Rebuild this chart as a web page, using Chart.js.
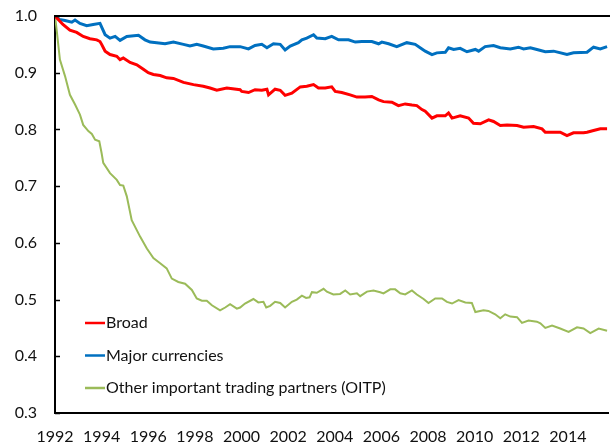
<!DOCTYPE html>
<html>
<head>
<meta charset="utf-8">
<script src="https://cdn.jsdelivr.net/npm/chart.js@4.4.1/dist/chart.umd.min.js"></script>
<style>
  body { margin: 0; background: #fff; }
  canvas { display: block; }
</style>
</head>
<body>
<canvas id="reer" width="610" height="444"></canvas>
<script>
// Series (decimal years, index values)
const broadYears = [1992.00, 1992.34, 1992.64, 1992.93, 1993.21, 1993.50, 1993.79, 1993.93, 1994.00, 1994.15, 1994.36, 1994.65, 1994.79, 1994.93, 1995.22, 1995.51, 1995.79, 1996.00, 1996.22, 1996.51, 1996.79, 1997.08, 1997.51, 1997.94, 1998.36, 1998.65, 1998.94, 1999.37, 1999.94, 2000.01, 2000.30, 2000.58, 2000.87, 2001.09, 2001.16, 2001.44, 2001.66, 2001.87, 2002.16, 2002.52, 2002.80, 2003.09, 2003.30, 2003.59, 2003.87, 2004.02, 2004.30, 2004.66, 2004.95, 2005.30, 2005.59, 2005.88, 2006.09, 2006.45, 2006.73, 2007.02, 2007.31, 2007.52, 2007.74, 2007.88, 2008.17, 2008.38, 2008.74, 2008.88, 2009.03, 2009.38, 2009.74, 2009.95, 2010.24, 2010.60, 2010.81, 2011.10, 2011.39, 2011.82, 2012.10, 2012.53, 2012.89, 2013.03, 2013.39, 2013.67, 2013.96, 2014.24, 2014.67, 2014.82, 2015.10, 2015.39, 2015.68];
const broadValues = [1.000, 0.985, 0.975, 0.971, 0.964, 0.960, 0.958, 0.955, 0.950, 0.938, 0.932, 0.929, 0.923, 0.926, 0.918, 0.914, 0.906, 0.900, 0.897, 0.895, 0.891, 0.890, 0.883, 0.879, 0.876, 0.873, 0.869, 0.873, 0.870, 0.867, 0.865, 0.870, 0.869, 0.871, 0.861, 0.871, 0.869, 0.860, 0.864, 0.875, 0.876, 0.879, 0.873, 0.873, 0.875, 0.867, 0.865, 0.861, 0.857, 0.857, 0.858, 0.852, 0.849, 0.848, 0.842, 0.845, 0.843, 0.842, 0.835, 0.832, 0.820, 0.824, 0.824, 0.829, 0.820, 0.824, 0.820, 0.811, 0.810, 0.817, 0.814, 0.807, 0.808, 0.807, 0.804, 0.805, 0.801, 0.795, 0.795, 0.795, 0.789, 0.794, 0.794, 0.795, 0.798, 0.801, 0.801];

const majorYears = [1992.00, 1992.18, 1992.43, 1992.72, 1992.86, 1993.07, 1993.36, 1993.64, 1993.93, 1994.15, 1994.36, 1994.58, 1994.79, 1995.08, 1995.58, 1995.86, 1996.08, 1996.36, 1996.72, 1997.08, 1997.51, 1997.79, 1998.08, 1998.36, 1998.79, 1999.22, 1999.51, 1999.94, 2000.30, 2000.58, 2000.87, 2001.09, 2001.37, 2001.66, 2001.87, 2002.09, 2002.44, 2002.59, 2002.80, 2003.09, 2003.23, 2003.59, 2003.87, 2004.16, 2004.59, 2004.88, 2005.16, 2005.59, 2005.88, 2006.02, 2006.31, 2006.66, 2007.09, 2007.45, 2007.74, 2007.88, 2008.17, 2008.38, 2008.74, 2008.88, 2009.10, 2009.38, 2009.67, 2010.03, 2010.17, 2010.45, 2010.81, 2011.10, 2011.53, 2011.88, 2012.10, 2012.39, 2012.67, 2013.03, 2013.39, 2013.96, 2014.24, 2014.82, 2015.10, 2015.39, 2015.68];
const majorValues = [1.000, 0.994, 0.992, 0.989, 0.993, 0.987, 0.983, 0.985, 0.987, 0.967, 0.961, 0.964, 0.957, 0.964, 0.966, 0.958, 0.954, 0.953, 0.951, 0.954, 0.950, 0.947, 0.950, 0.947, 0.942, 0.943, 0.946, 0.946, 0.942, 0.948, 0.950, 0.944, 0.951, 0.950, 0.940, 0.947, 0.953, 0.958, 0.961, 0.967, 0.961, 0.960, 0.964, 0.958, 0.958, 0.954, 0.955, 0.955, 0.951, 0.954, 0.951, 0.946, 0.953, 0.950, 0.942, 0.938, 0.932, 0.935, 0.936, 0.944, 0.941, 0.943, 0.937, 0.941, 0.938, 0.946, 0.948, 0.944, 0.942, 0.945, 0.942, 0.944, 0.941, 0.937, 0.938, 0.932, 0.935, 0.936, 0.945, 0.942, 0.946];

const oitpYears = [1992.00, 1992.07, 1992.21, 1992.43, 1992.64, 1992.86, 1993.07, 1993.21, 1993.43, 1993.58, 1993.72, 1993.90, 1994.00, 1994.07, 1994.36, 1994.65, 1994.79, 1994.93, 1995.08, 1995.29, 1995.65, 1995.94, 1996.22, 1996.51, 1996.79, 1997.01, 1997.29, 1997.58, 1997.87, 1998.08, 1998.30, 1998.51, 1998.73, 1999.08, 1999.30, 1999.51, 1999.80, 1999.94, 2000.15, 2000.51, 2000.72, 2000.94, 2001.06, 2001.23, 2001.44, 2001.66, 2001.87, 2002.16, 2002.37, 2002.59, 2002.77, 2002.92, 2003.02, 2003.23, 2003.52, 2003.66, 2003.94, 2004.23, 2004.45, 2004.66, 2004.95, 2005.09, 2005.38, 2005.66, 2005.95, 2006.09, 2006.38, 2006.59, 2006.81, 2007.02, 2007.31, 2007.52, 2007.81, 2008.02, 2008.31, 2008.60, 2008.81, 2009.03, 2009.31, 2009.60, 2009.88, 2010.03, 2010.38, 2010.59, 2010.88, 2011.10, 2011.31, 2011.53, 2011.82, 2012.03, 2012.31, 2012.67, 2012.82, 2013.03, 2013.32, 2013.67, 2014.03, 2014.39, 2014.67, 2014.96, 2015.32, 2015.68];
const oitpValues = [1.000, 0.976, 0.923, 0.894, 0.861, 0.844, 0.826, 0.808, 0.797, 0.792, 0.782, 0.779, 0.758, 0.741, 0.723, 0.711, 0.702, 0.701, 0.682, 0.640, 0.611, 0.590, 0.573, 0.564, 0.555, 0.537, 0.531, 0.528, 0.517, 0.502, 0.498, 0.498, 0.490, 0.481, 0.486, 0.492, 0.484, 0.486, 0.493, 0.501, 0.495, 0.496, 0.486, 0.489, 0.496, 0.494, 0.486, 0.496, 0.500, 0.507, 0.503, 0.504, 0.513, 0.512, 0.519, 0.514, 0.509, 0.510, 0.516, 0.509, 0.511, 0.506, 0.514, 0.516, 0.513, 0.511, 0.518, 0.518, 0.511, 0.509, 0.516, 0.509, 0.501, 0.494, 0.502, 0.502, 0.496, 0.493, 0.499, 0.495, 0.494, 0.478, 0.481, 0.480, 0.474, 0.467, 0.474, 0.470, 0.469, 0.459, 0.463, 0.461, 0.458, 0.450, 0.454, 0.449, 0.443, 0.451, 0.449, 0.441, 0.449, 0.445];

const xTickLabels = [1992, 1994, 1996, 1998, 2000, 2002, 2004, 2006, 2008, 2010, 2012, 2014];
const yTickLabels = [0.3, 0.4, 0.5, 0.6, 0.7, 0.8, 0.9, 1.0];

const toPoints = (xs, ys) => xs.map((x, i) => ({ x: x, y: ys[i] }));

Chart.defaults.font.family = 'Lato, "Open Sans", sans-serif';
Chart.defaults.font.size = 16;
Chart.defaults.color = '#111';

// axis frame bits and the legend inside the plot
const frame = {
  id: 'frame',
  afterDatasetsDraw(chart) {
    const c = chart.ctx;
    const a = chart.chartArea;
    const ys = chart.scales.y;
    c.save();
    c.strokeStyle = '#000';
    c.lineWidth = 2;
    c.beginPath();
    c.moveTo(a.left, a.top);
    c.lineTo(a.right + 2, a.top);
    c.stroke();
    c.lineWidth = 1.5;
    yTickLabels.forEach(v => {
      const py = Math.round(ys.getPixelForValue(v)) + 0.5;
      c.beginPath();
      c.moveTo(a.left, py);
      c.lineTo(a.left + 5, py);
      c.stroke();
    });

    c.font = '16px Lato, "Open Sans", sans-serif';
    c.textBaseline = 'middle';
    chart.data.datasets.forEach((ds, i) => {
      const py = 323 + i * 32.5;
      c.strokeStyle = ds.borderColor;
      c.lineWidth = 2.5;
      c.beginPath();
      c.moveTo(85, py);
      c.lineTo(105, py);
      c.stroke();
      c.fillStyle = '#111';
      c.fillText(ds.label, 106, py);
    });
    c.restore();
  }
};

new Chart(document.getElementById('reer'), {
  type: 'line',
  data: {
    datasets: [{
      label: 'Broad',
      data: toPoints(broadYears, broadValues),
      borderColor: '#FF0000',
      borderWidth: 3
    }, {
      label: 'Major currencies',
      data: toPoints(majorYears, majorValues),
      borderColor: '#0070C0',
      borderWidth: 3
    }, {
      label: 'Other important trading partners (OITP)',
      data: toPoints(oitpYears, oitpValues),
      borderColor: '#9BBB59',
      borderWidth: 2
    }]
  },
  options: {
    responsive: false,
    animation: false,
    elements: { point: { radius: 0 }, line: { tension: 0 } },
    layout: { padding: { top: 16, right: 2, left: 0, bottom: 0 } },
    plugins: { legend: { display: false }, tooltip: { enabled: false } },
    scales: {
      x: {
        type: 'linear',
        min: 1992,
        max: 2015.72,
        afterBuildTicks: s => { s.ticks = xTickLabels.map(v => ({ value: v })); },
        afterFit: s => { s.height = 31; s.paddingLeft = 0; s.paddingRight = 0; },
        grid: { display: false },
        border: { display: true, color: '#000', width: 2 },
        ticks: { padding: 6, maxRotation: 0, autoSkip: false, callback: v => String(v) }
      },
      y: {
        min: 0.3,
        max: 1.0,
        afterBuildTicks: s => { s.ticks = yTickLabels.map(v => ({ value: v })); },
        afterFit: s => { s.width = 55; s.paddingTop = 0; s.paddingBottom = 0; },
        grid: { display: false },
        border: { display: true, color: '#000', width: 2 },
        ticks: { padding: 10, callback: v => Number(v).toFixed(1) }
      }
    }
  },
  plugins: [frame]
});
</script>
</body>
</html>
